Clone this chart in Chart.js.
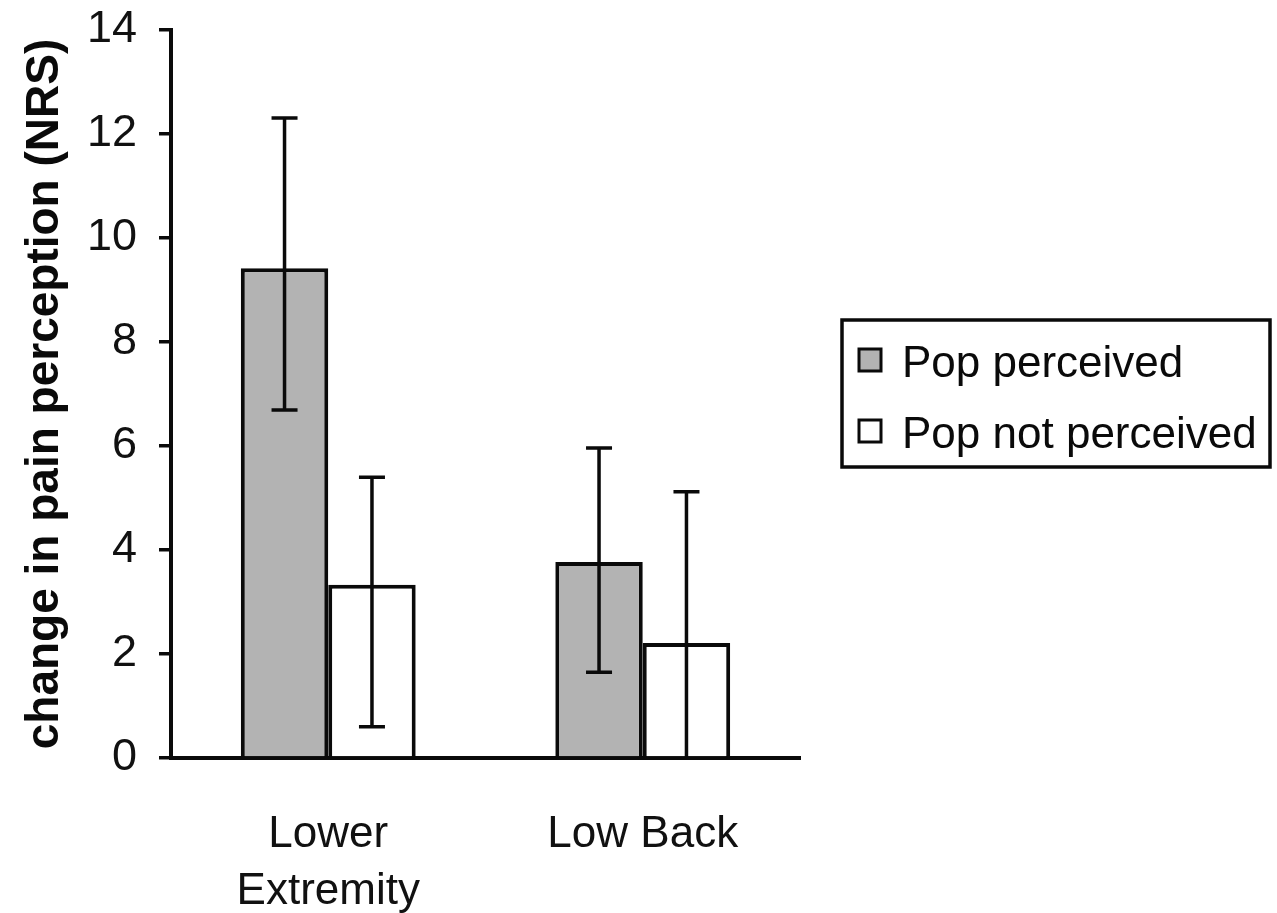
<!DOCTYPE html>
<html>
<head>
<meta charset="utf-8">
<script src="https://cdn.jsdelivr.net/npm/chart.js@4.4.0/dist/chart.umd.min.js"></script>
<style>
  html, body { margin: 0; padding: 0; background: #fff; }
  #wrap { width: 1277px; height: 913px; }
</style>
</head>
<body>
<div id="wrap"><canvas id="c" width="1277" height="913"></canvas></div>
<script>
const categories = [['Lower', 'Extremity'], 'Low Back'];
const seriesNames = ['Pop perceived', 'Pop not perceived'];
const perceived = [9.42, 3.77];
const notPerceived = [3.33, 2.21];
const perceivedLow = [6.69, 1.65];
const perceivedHigh = [12.31, 5.96];
const notPerceivedLow = [0.60, -0.70];
const notPerceivedHigh = [5.40, 5.12];
const yTicks = [0, 2, 4, 6, 8, 10, 12, 14];

const FONT = "'Liberation Sans', Arial, sans-serif";

const errorBars = {
  id: 'errorBars',
  afterDatasetsDraw(chart) {
    const ctx = chart.ctx;
    const y = chart.scales.y;
    const area = chart.chartArea;
    ctx.save();
    ctx.beginPath();
    ctx.rect(area.left, area.top - 20, area.right - area.left, area.bottom - area.top + 20);
    ctx.clip();
    ctx.strokeStyle = '#0a0a0a';
    ctx.lineWidth = 3.5;
    chart.data.datasets.forEach((ds, di) => {
      const meta = chart.getDatasetMeta(di);
      meta.data.forEach((bar, i) => {
        const x = bar.x;
        const lo = y.getPixelForValue(ds.errLow[i]);
        const hi = y.getPixelForValue(ds.errHigh[i]);
        const cap = 13;
        ctx.beginPath();
        ctx.moveTo(x, lo); ctx.lineTo(x, hi);
        ctx.moveTo(x - cap, hi); ctx.lineTo(x + cap, hi);
        ctx.moveTo(x - cap, lo); ctx.lineTo(x + cap, lo);
        ctx.stroke();
      });
    });
    ctx.restore();
  }
};

const boxLegend = {
  id: 'boxLegend',
  afterDraw(chart) {
    const ctx = chart.ctx;
    const area = chart.chartArea;
    const left = area.right + 42, top = 320, w = 428, h = 147;
    ctx.save();
    ctx.strokeStyle = '#0a0a0a';
    ctx.lineWidth = 3.5;
    ctx.strokeRect(left, top, w, h);
    ctx.font = '44px ' + FONT;
    ctx.textBaseline = 'alphabetic';
    const baselines = [377, 448];
    chart.data.datasets.forEach((ds, i) => {
      const cy = baselines[i] - 17;
      ctx.fillStyle = ds.backgroundColor;
      ctx.fillRect(left + 17, cy - 11, 22, 22);
      ctx.lineWidth = 3;
      ctx.strokeStyle = '#0a0a0a';
      ctx.strokeRect(left + 17, cy - 11, 22, 22);
      ctx.fillStyle = '#0a0a0a';
      ctx.fillText(ds.label, left + 60, baselines[i]);
    });
    ctx.restore();
  }
};

new Chart(document.getElementById('c'), {
  type: 'bar',
  data: {
    labels: categories,
    datasets: [
      { label: seriesNames[0], data: perceived, errLow: perceivedLow, errHigh: perceivedHigh,
        backgroundColor: '#b3b3b3', borderColor: '#0a0a0a', borderWidth: 4,
        categoryPercentage: 0.556, barPercentage: 1.0 },
      { label: seriesNames[1], data: notPerceived, errLow: notPerceivedLow, errHigh: notPerceivedHigh,
        backgroundColor: '#ffffff', borderColor: '#0a0a0a', borderWidth: 4,
        categoryPercentage: 0.556, barPercentage: 1.0 }
    ]
  },
  options: {
    responsive: false,
    animation: false,
    layout: { padding: { top: 30, right: 477, left: 0, bottom: 0 } },
    plugins: { legend: { display: false }, tooltip: { enabled: false } },
    scales: {
      x: {
        grid: { display: false },
        border: { display: true, color: '#0a0a0a', width: 4 },
        ticks: { color: '#111', font: { family: FONT, size: 44, lineHeight: 1.3 }, padding: 40, maxRotation: 0 },
        afterFit(s) { s.height = 155; }
      },
      y: {
        min: 0, max: 14,
        afterBuildTicks(s) { s.ticks = yTicks.map(v => ({ value: v })); },
        grid: { drawOnChartArea: false, drawTicks: true, tickLength: 12, color: '#0a0a0a', lineWidth: 3.5 },
        border: { display: true, color: '#0a0a0a', width: 4 },
        ticks: { color: '#111', font: { family: FONT, size: 45, lineHeight: 0.35 }, padding: 22 },
        title: { display: true, text: 'change in pain perception (NRS)', color: '#0a0a0a',
                 font: { family: FONT, size: 46, weight: 'bold', lineHeight: 1.2 }, padding: { top: 18, bottom: 0 } },
        afterFit(s) { s.width = 171; }
      }
    }
  },
  plugins: [errorBars, boxLegend]
});
</script>
</body>
</html>
